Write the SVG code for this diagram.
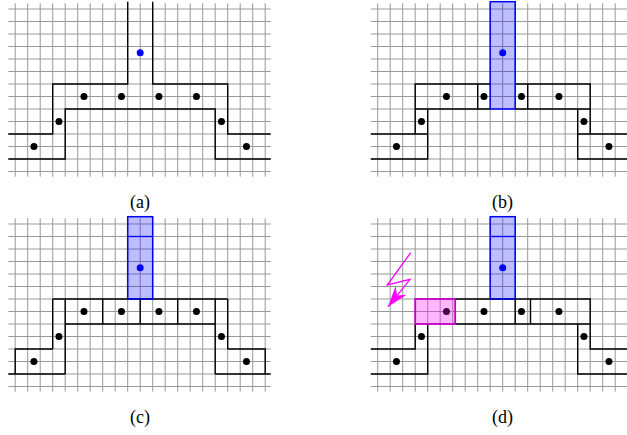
<svg xmlns="http://www.w3.org/2000/svg" xmlns:xlink="http://www.w3.org/1999/xlink" width="627" height="435" viewBox="0 0 627 435">
<style>
.grid{fill:none;stroke:#999;stroke-width:1}
.blk{fill:none;stroke:#000;stroke-width:1.4}
.blue{fill:#0000ff;fill-opacity:0.26;stroke:#0000ee;stroke-width:1.5}
.blueline{fill:none;stroke:#0000ee;stroke-width:1.3}
.mag{fill:#ff00ff;fill-opacity:0.28;stroke:#c400c4;stroke-width:1.8}
.dot{fill:#000}
.bdot{fill:#0000ff}
.bolt{fill:none;stroke:#ff00ff;stroke-width:1.3}
.lbl{font-family:"Liberation Serif","DejaVu Serif",serif;font-size:18px;fill:#000;text-anchor:middle}
</style>
<defs>
<marker id="ah" viewBox="-22 -8 23 16" markerWidth="23" markerHeight="16" refX="0" refY="0" orient="auto" markerUnits="userSpaceOnUse">
<path d="M0 0L-21 -7L-14.5 0L-21 7Z" fill="#ff00ff"/>
</marker>
<g id="grid">
<path class="grid" d="M0 -5.7V167.7M12.5 -5.7V167.7M25 -5.7V167.7M37.5 -5.7V167.7M50 -5.7V167.7M62.5 -5.7V167.7M75 -5.7V167.7M87.5 -5.7V167.7M100 -5.7V167.7M112.5 -5.7V167.7M125 -5.7V167.7M137.5 -5.7V167.7M150 -5.7V167.7M162.5 -5.7V167.7M175 -5.7V167.7M187.5 -5.7V167.7M200 -5.7V167.7M212.5 -5.7V167.7M225 -5.7V167.7M237.5 -5.7V167.7M250 -5.7V167.7"/>
<path class="grid" d="M-6.9 0H255.5M-6.9 12.5H255.5M-6.9 25H255.5M-6.9 37.5H255.5M-6.9 50H255.5M-6.9 62.5H255.5M-6.9 75H255.5M-6.9 87.5H255.5M-6.9 100H255.5M-6.9 112.5H255.5M-6.9 125H255.5M-6.9 137.5H255.5M-6.9 150H255.5M-6.9 162.5H255.5"/>
</g>
<g id="dots">
<circle class="dot" cx="68.75" cy="87.5" r="3.5"/>
<circle class="dot" cx="106.25" cy="87.5" r="3.5"/>
<circle class="dot" cx="143.75" cy="87.5" r="3.5"/>
<circle class="dot" cx="181.25" cy="87.5" r="3.5"/>
<circle class="dot" cx="43.75" cy="112.5" r="3.5"/>
<circle class="dot" cx="206.25" cy="112.5" r="3.5"/>
<circle class="dot" cx="18.75" cy="137.5" r="3.5"/>
<circle class="dot" cx="231.25" cy="137.5" r="3.5"/>
</g>
</defs>

<g id="panel-a" transform="translate(15.2,9)">
<use xlink:href="#grid"/>
<path class="blk" d="M112.5 -7.3V75H37.5V125H-6.9M137.5 -7.3V75H212.5V125H255.5M-6.9 150H50V100H200V150H255.5"/>
<use xlink:href="#dots"/>
<circle class="bdot" cx="125" cy="43.75" r="3.5"/>
</g>

<g id="panel-b" transform="translate(377.7,9)">
<use xlink:href="#grid"/>
<path class="blk" d="M112.5 75H37.5V125H-6.9M37.5 100H112.5M100 75V100M50 100V150H-6.9M37.5 125H50M137.5 75H212.5V125H255.5M137.5 100H212.5M150 75V100M200 100V150H255.5M200 125H212.5"/>
<use xlink:href="#dots"/>
<rect class="blue" x="112.5" y="-7.3" width="25" height="107.3"/>
<circle class="bdot" cx="125" cy="43.75" r="3.5"/>
</g>

<g id="panel-c" transform="translate(15.2,224)">
<use xlink:href="#grid"/>
<path class="blk" d="M37.5 75H212.5M50 100H200M37.5 75V125M50 75V150M87.5 75V100M125 75V100M162.5 75V100M200 75V150M212.5 75V125M37.5 125H0V150M-6.9 150H50M212.5 125H250V150M200 150H255.5"/>
<use xlink:href="#dots"/>
<rect class="blue" x="112.5" y="-7.3" width="25" height="82.3"/>
<path class="blueline" d="M112.5 12.5H137.5"/>
<circle class="bdot" cx="125" cy="43.75" r="3.5"/>
</g>

<g id="panel-d" transform="translate(377.7,224)">
<use xlink:href="#grid"/>
<path class="blk" d="M77.5 75H212.5V125H255.5M77.5 100H212.5M137.5 75V100M152.8 75V100M37.5 100V125H-6.9M50 100V150H-6.9M200 100V150H255.5"/>
<use xlink:href="#dots"/>
<rect class="blue" x="112.5" y="-7.3" width="25" height="82.3"/>
<path class="blueline" d="M112.5 12.5H137.5"/>
<circle class="bdot" cx="125" cy="43.75" r="3.5"/>
<rect class="mag" x="37.5" y="75" width="40" height="25"/>
</g>

<g id="connectors">
<path class="bolt" d="M410.7 252.7L387.3 285L410 279.3L388 306.8" marker-end="url(#ah)"/>
</g>

<g id="labels">
<text class="lbl" x="140" y="208">(a)</text>
<text class="lbl" x="502.5" y="208">(b)</text>
<text class="lbl" x="140" y="423">(c)</text>
<text class="lbl" x="502.5" y="423">(d)</text>
</g>
</svg>
